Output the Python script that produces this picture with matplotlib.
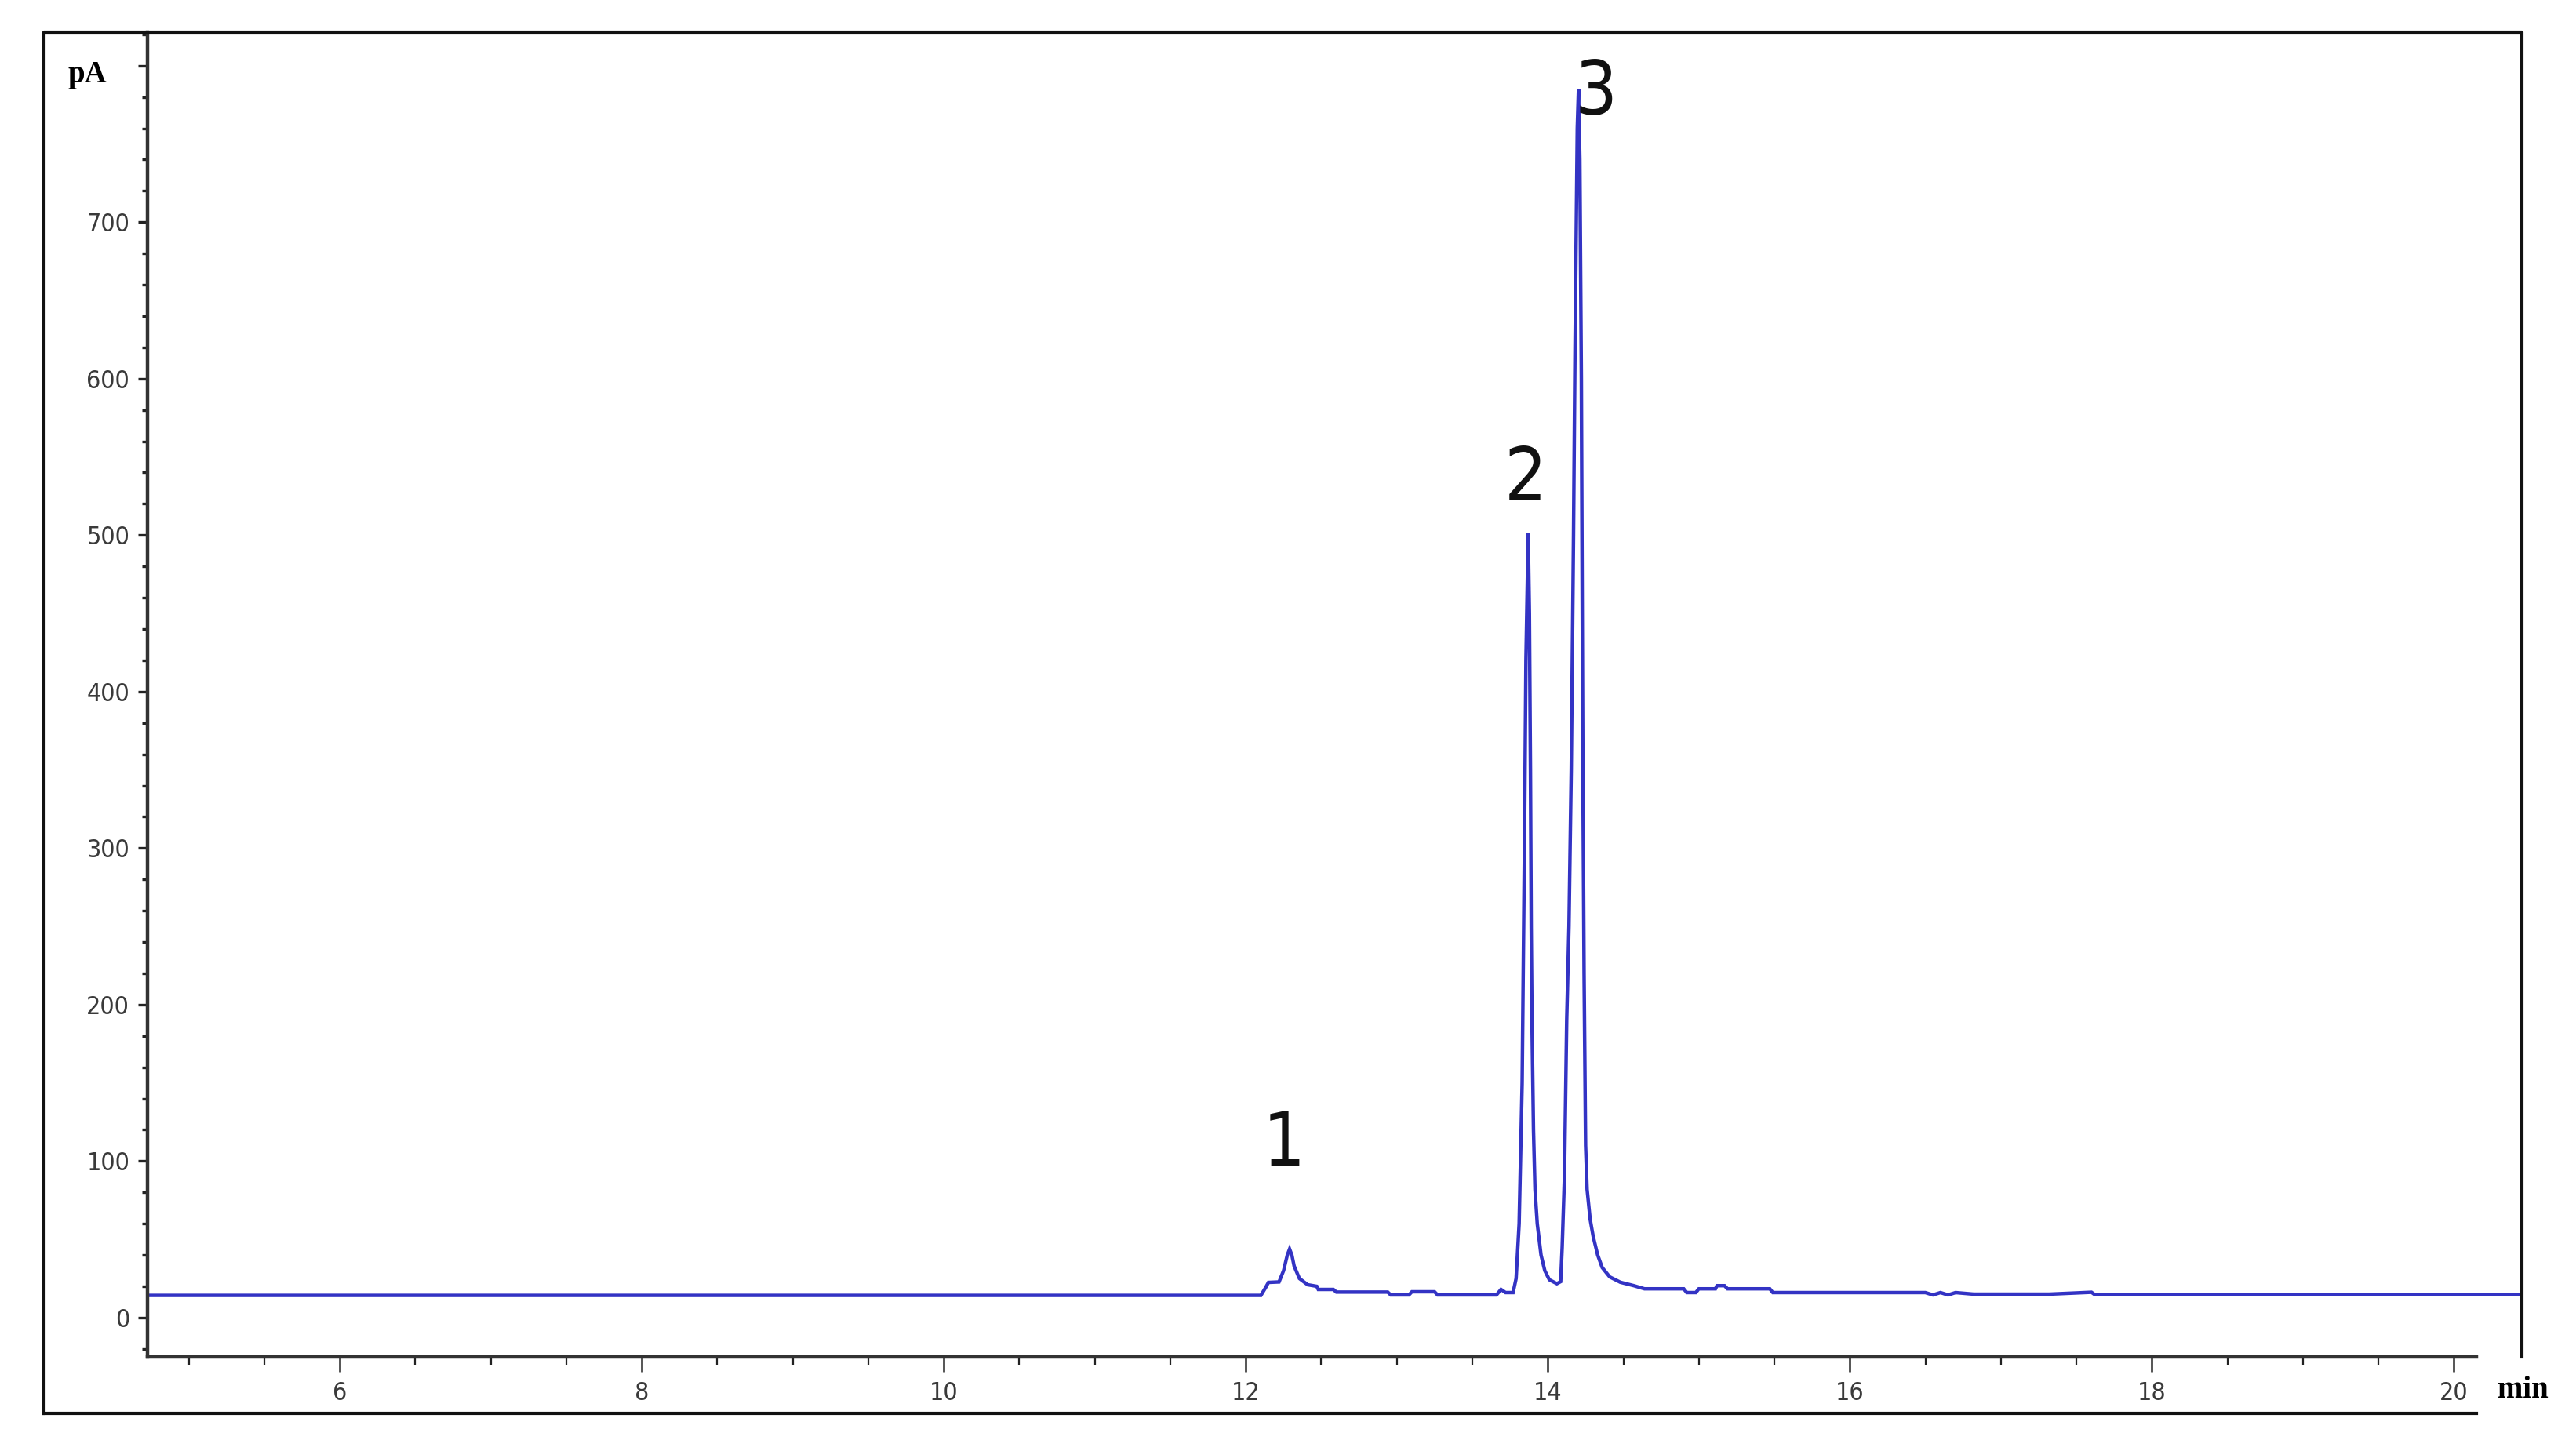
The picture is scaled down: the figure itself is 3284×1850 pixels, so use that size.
from matplotlib import use

use("Agg")

from matplotlib import pyplot
from matplotlib import font_manager
from matplotlib.lines import Line2D
from matplotlib.ticker import MultipleLocator, FixedLocator
import numpy as np


# Chromatogram trace (min, pA).
time_min = [
    4.73, 12.10, 12.13, 12.15, 12.22, 12.25, 12.275, 12.29, 12.305, 12.32,
    12.355, 12.41, 12.47, 12.48, 12.58, 12.60, 12.94, 12.96, 13.08, 13.10,
    13.25, 13.27, 13.66, 13.69, 13.72, 13.77, 13.79, 13.81, 13.83, 13.845,
    13.855, 13.87, 13.878, 13.885, 13.89, 13.895, 13.905, 13.915, 13.93, 13.955,
    13.98, 14.01, 14.06, 14.085, 14.095, 14.11, 14.125, 14.14, 14.155, 14.17,
    14.18, 14.195, 14.203, 14.212, 14.222, 14.232, 14.24, 14.25, 14.26, 14.28,
    14.30, 14.33, 14.36, 14.41, 14.48, 14.57, 14.64, 14.90, 14.92, 14.98,
    15.00, 15.11, 15.12, 15.17, 15.19, 15.47, 15.49, 16.50, 16.55, 16.60,
    16.65, 16.70, 16.82, 17.32, 17.60, 17.62, 20.45,
]
signal_pA = [
    14.2, 14.2, 19.0, 22.5, 22.8, 30.0, 40.0, 43.8, 40.0, 33.0,
    25.0, 21.0, 20.0, 18.0, 18.0, 16.3, 16.3, 14.5, 14.5, 16.5,
    16.5, 14.5, 14.5, 18.0, 16.0, 16.0, 25.0, 60.0, 150.0, 300.0,
    420.0, 501.0, 450.0, 350.0, 250.0, 190.0, 120.0, 82.0, 60.0, 40.0,
    30.0, 24.2, 21.7, 23.0, 45.0, 90.0, 190.0, 250.0, 350.0, 500.0,
    620.0, 760.0, 785.0, 740.0, 600.0, 350.0, 220.0, 110.0, 82.0, 63.0,
    52.0, 40.0, 32.0, 26.0, 22.6, 20.4, 18.4, 18.4, 16.0, 16.0,
    18.4, 18.4, 20.4, 20.4, 18.4, 18.4, 16.0, 16.0, 14.5, 16.0,
    14.5, 16.0, 15.0, 15.0, 16.2, 14.8, 14.8,
]

peak_names = ["1", "2", "3"]
peak_label_min = [12.25, 13.85, 14.32]
peak_label_pA = [110, 535, 782]

y_tick_labels = ["0", "100", "200", "300", "400", "500", "600", "700", ""]
x_tick_values = [6, 8, 10, 12, 14, 16, 18, 20]

W, H, DPI = 3284, 1850, 200

fonts = font_manager.fontManager.ttflist
names = {f.name for f in fonts}
if "Liberation Sans Narrow" in names:
    narrow = dict(family="Liberation Sans Narrow")
elif any(f.name == "DejaVu Sans" and "condensed" in str(f.stretch) for f in fonts):
    narrow = dict(family="DejaVu Sans", stretch="condensed")
else:
    narrow = dict(family="Liberation Sans")


def fx(px):
    return px / W


def fy(py):
    return 1 - py / H


fig = pyplot.figure(figsize=(W / DPI, H / DPI), dpi=DPI)
ax = fig.add_axes([fx(188), fy(1730), fx(3215) - fx(188), fy(41) - fy(1730)])

ax.plot(time_min, signal_pA, c="#3333c4", lw=1.6, solid_joinstyle="miter")

ax.set_xlim(4.727, 20.45)
ax.set_ylim(-25.1, 821.4)

for side in ("top", "right"):
    ax.spines[side].set_visible(False)
for side in ("left", "bottom"):
    ax.spines[side].set_color("#333333")
    ax.spines[side].set_linewidth(1.6)
# the time axis stops short of the frame
ax.spines["bottom"].set_bounds(4.727, 20.15)

ax.xaxis.set_major_locator(FixedLocator(x_tick_values))
ax.xaxis.set_minor_locator(FixedLocator(np.arange(5.0, 20.01, 0.5)))
ax.set_xticklabels([str(v) for v in x_tick_values])
ax.yaxis.set_major_locator(FixedLocator(range(0, 900, 100)))
ax.yaxis.set_minor_locator(MultipleLocator(20))
ax.set_yticklabels(y_tick_labels)

ax.tick_params(axis="x", which="major", length=7, width=0.9, pad=4, color="#222222")
ax.tick_params(axis="x", which="minor", length=3.6, width=0.8, color="#222222")
ax.tick_params(axis="y", which="major", length=4.2, width=1.2, pad=4, color="#222222")
ax.tick_params(axis="y", which="minor", length=2.4, width=1.2, color="#222222")
for lab in ax.get_xticklabels() + ax.get_yticklabels():
    lab.set(**narrow)
    lab.set_fontsize(11.5)
    lab.set_color("#3a3a3a")

# Peak numbers.
for name, t, v in zip(peak_names, peak_label_min, peak_label_pA):
    ax.text(t, v, name, fontsize=34, ha="center", va="center", c="#111111", **narrow)

# Axis units.
fig.text(fx(111), fy(95), "pA", family="Liberation Serif", weight="bold",
         fontsize=14, ha="center", va="center")
fig.text(fx(3216), fy(1772), "min", family="Liberation Serif", weight="bold",
         fontsize=14, ha="center", va="center")

# Outer frame: open at the lower right.
frame = dict(transform=fig.transFigure, c="#111111", lw=1.5)
fig.add_artist(Line2D([fx(56), fx(56), fx(3215), fx(3215)],
                      [fy(1802), fy(41), fy(41), fy(1730)], **frame))
fig.add_artist(Line2D([fx(56), fx(3157)], [fy(1802), fy(1802)], **frame))

fig.savefig("out.png", dpi=DPI)
pyplot.close(fig)
